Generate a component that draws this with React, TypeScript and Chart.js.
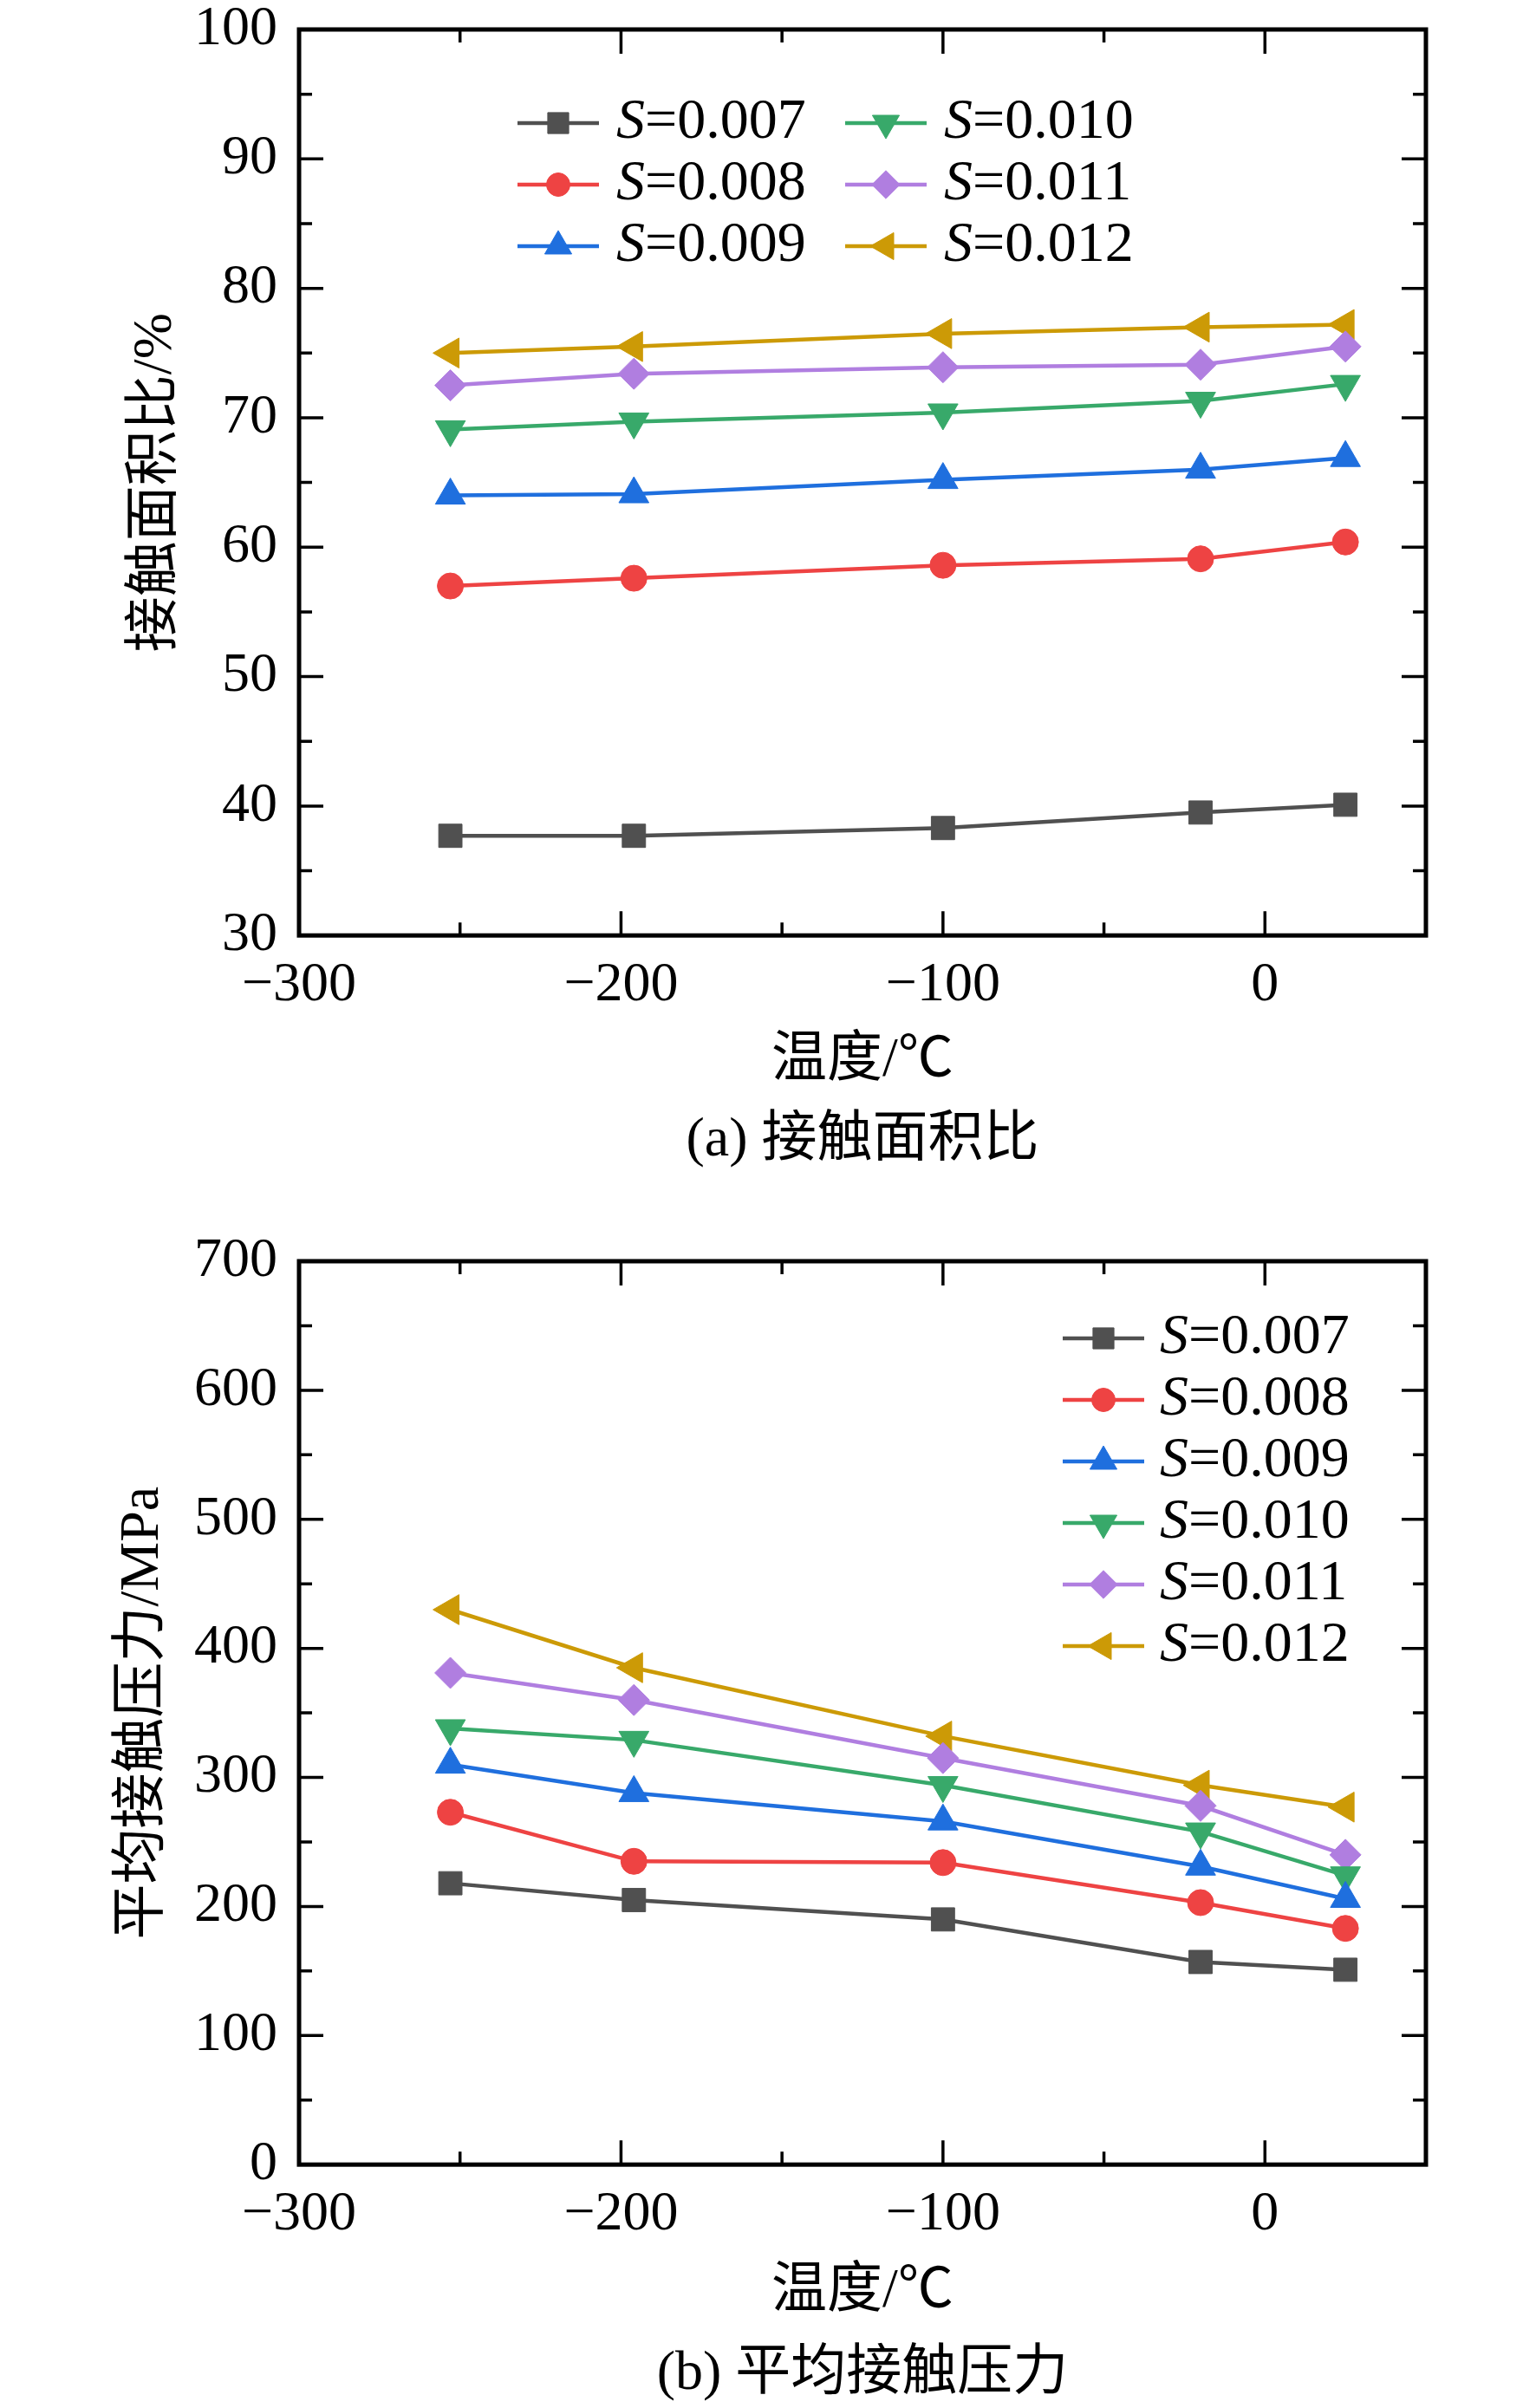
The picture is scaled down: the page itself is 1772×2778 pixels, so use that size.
import { useEffect, useRef } from 'react'
import { Chart, registerables } from 'chart.js'
import { drawPoint } from 'chart.js/helpers'

Chart.register(...registerables)

// temperature (°C) of each measurement
const TEMPERATURES = [-253, -196, -100, -20, 25]

const SERIES_LABELS = ['S=0.007', 'S=0.008', 'S=0.009', 'S=0.010', 'S=0.011', 'S=0.012']
const COLORS = ['#505050', '#ee4343', '#1f6fde', '#38a96a', '#b07ee0', '#cc9a06']
const POINT_STYLES = ['rect', 'circle', 'triangle', 'triangle', 'rectRot', 'triangle']
const POINT_ROTATIONS = [0, 0, 0, 180, 0, -90]
const POINT_RADII = [19, 15, 20, 20, 18, 20]

// (a) contact area ratio, %
const AREA_S007 = [37.7, 37.7, 38.3, 39.5, 40.1]
const AREA_S008 = [57.0, 57.6, 58.6, 59.1, 60.4]
const AREA_S009 = [64.0, 64.1, 65.2, 66.0, 66.9]
const AREA_S010 = [69.1, 69.7, 70.4, 71.3, 72.6]
const AREA_S011 = [72.5, 73.4, 73.9, 74.1, 75.5]
const AREA_S012 = [75.0, 75.5, 76.5, 77.0, 77.2]

// (b) mean contact pressure, MPa
const PRESSURE_S007 = [218, 205, 190, 157, 151]
const PRESSURE_S008 = [273, 235, 234, 203, 183]
const PRESSURE_S009 = [310, 288, 266, 231, 206]
const PRESSURE_S010 = [338, 329, 294, 258, 224]
const PRESSURE_S011 = [381, 360, 315, 278, 240]
const PRESSURE_S012 = [430, 385, 332, 294, 277]

const X_MIN = -300
const X_MAX = 50

const SERIF = '"Liberation Serif", "Times New Roman", serif'
const MIXED = '"Liberation Serif", "Noto Sans CJK SC", serif'

const fmt = (v: number) => (v < 0 ? '\u2212' + Math.abs(v) : String(v))

// box frame + inward ticks on all four sides
const frameTicks = {
  id: 'frameTicks',
  afterDatasetsDraw(chart: any, _args: any, opts: any) {
    const { ctx, chartArea: a } = chart
    const xs = chart.scales.x
    const ys = chart.scales.y
    ctx.save()
    ctx.strokeStyle = '#000'
    ctx.lineWidth = 3.5
    ctx.beginPath()
    xs.ticks.forEach((t: any) => {
      if (t.value <= xs.min || t.value >= xs.max) return
      const px = xs.getPixelForValue(t.value)
      const len = t.value % opts.xMajor === 0 ? 28 : 15
      ctx.moveTo(px, a.bottom); ctx.lineTo(px, a.bottom - len)
      ctx.moveTo(px, a.top); ctx.lineTo(px, a.top + len)
    })
    ys.ticks.forEach((t: any) => {
      if (t.value <= ys.min || t.value >= ys.max) return
      const py = ys.getPixelForValue(t.value)
      const len = t.value % opts.yMajor === 0 ? 28 : 15
      ctx.moveTo(a.left, py); ctx.lineTo(a.left + len, py)
      ctx.moveTo(a.right, py); ctx.lineTo(a.right - len, py)
    })
    ctx.stroke()
    ctx.lineWidth = 5
    ctx.strokeRect(a.left, a.top, a.right - a.left, a.bottom - a.top)
    ctx.restore()
  },
}

// legend with italic "S"
const seriesLegend = {
  id: 'seriesLegend',
  afterDraw(chart: any, _args: any, opts: any) {
    const ctx = chart.ctx
    chart.data.datasets.forEach((ds: any, i: number) => {
      const col = Math.floor(i / opts.rowsPerCol)
      const row = i % opts.rowsPerCol
      const x0 = opts.x + col * opts.colGap
      const y = opts.y + row * opts.rowGap
      ctx.save()
      ctx.strokeStyle = ds.borderColor
      ctx.lineWidth = 4.5
      ctx.beginPath()
      ctx.moveTo(x0, y)
      ctx.lineTo(x0 + opts.lineLen, y)
      ctx.stroke()
      ctx.fillStyle = ds.pointBackgroundColor
      ctx.lineWidth = 1
      drawPoint(ctx, {
        pointStyle: ds.pointStyle,
        rotation: ds.pointRotation,
        radius: ds.pointRadius * 0.9,
        borderWidth: 1,
      } as any, x0 + opts.lineLen / 2, y)
      const [head, tail] = ds.label.split('=')
      const tx = x0 + opts.lineLen + opts.textGap
      ctx.fillStyle = '#000'
      ctx.textBaseline = 'middle'
      ctx.textAlign = 'left'
      ctx.font = `italic ${opts.fontSize}px ${SERIF}`
      ctx.fillText(head, tx, y)
      const w = ctx.measureText(head).width
      ctx.font = `${opts.fontSize}px ${SERIF}`
      ctx.fillText('=' + tail, tx + w, y)
      ctx.restore()
    })
  },
}

type PanelProps = {
  series: number[][]
  yMin: number
  yMax: number
  yStep: number
  yMajor: number
  yTitle: string
  yTitlePad: number
  caption: string
  padTop: number
  xAxisHeight: number
  capPadTop: number
  capPadBottom: number
  legend: Record<string, number>
}

function Panel(p: PanelProps) {
  const ref = useRef<HTMLCanvasElement>(null)

  useEffect(() => {
    if (!ref.current) return
    const chart = new Chart(ref.current, {
      type: 'line',
      data: {
        datasets: p.series.map((vals, i) => ({
          label: SERIES_LABELS[i],
          data: TEMPERATURES.map((x, j) => ({ x, y: vals[j] })),
          borderColor: COLORS[i],
          backgroundColor: COLORS[i],
          pointBackgroundColor: COLORS[i],
          pointBorderColor: COLORS[i],
          pointBorderWidth: 1,
          borderWidth: 4.5,
          pointStyle: POINT_STYLES[i] as any,
          pointRotation: POINT_ROTATIONS[i],
          pointRadius: POINT_RADII[i],
          pointHoverRadius: POINT_RADII[i],
          tension: 0,
          fill: false,
        })),
      },
      options: {
        animation: false,
        responsive: false,
        devicePixelRatio: 1,
        layout: { padding: { top: p.padTop, right: 127, left: 0, bottom: 0 } },
        plugins: {
          legend: { display: false },
          tooltip: { enabled: false },
          title: {
            display: true,
            text: p.caption,
            position: 'bottom',
            fullSize: false,
            color: '#000',
            font: { family: MIXED, size: 64, weight: 'normal', lineHeight: 1.2 },
            padding: { top: p.capPadTop, bottom: p.capPadBottom },
          },
          frameTicks: { xMajor: 100, yMajor: p.yMajor },
          seriesLegend: p.legend,
        } as any,
        scales: {
          x: {
            type: 'linear',
            min: X_MIN,
            max: X_MAX,
            grid: { display: false },
            border: { display: false },
            ticks: {
              stepSize: 50,
              autoSkip: false,
              maxRotation: 0,
              padding: 18,
              color: '#000',
              font: { family: SERIF, size: 64, lineHeight: 1 },
              callback: (v: any) => (v % 100 === 0 ? fmt(v) : ''),
            },
            title: {
              display: true,
              text: '温度/℃',
              color: '#000',
              font: { family: MIXED, size: 64, lineHeight: 1.2 },
              padding: 0,
            },
            afterFit: (s: any) => { s.height = p.xAxisHeight },
          },
          y: {
            min: p.yMin,
            max: p.yMax,
            grid: { display: false },
            border: { display: false },
            ticks: {
              stepSize: p.yStep,
              autoSkip: false,
              padding: 17,
              color: '#000',
              font: { family: SERIF, size: 64, lineHeight: 0.2 },
              callback: (v: any) => (v % p.yMajor === 0 ? fmt(v) : ''),
            },
            title: {
              display: true,
              text: p.yTitle,
              color: '#000',
              font: { family: MIXED, size: 64, lineHeight: 1.2 },
              padding: { top: p.yTitlePad, bottom: 0 },
            },
            afterFit: (s: any) => { s.width = 345 },
          },
        },
      },
      plugins: [frameTicks, seriesLegend],
    })
    return () => { chart.destroy() }
  }, [])

  return <canvas ref={ref} width={1772} height={1389} style={{ display: 'block' }} />
}

export default function App() {
  return (
    <div style={{ position: 'absolute', left: 0, top: 0, width: 1772, height: 2778, background: '#fff' }}>
      <Panel
        series={[AREA_S007, AREA_S008, AREA_S009, AREA_S010, AREA_S011, AREA_S012]}
        yMin={30}
        yMax={100}
        yStep={5}
        yMajor={10}
        yTitle="接触面积比/%"
        yTitlePad={142}
        caption="(a) 接触面积比"
        padTop={34}
        xAxisHeight={183}
        capPadTop={16}
        capPadBottom={34}
        legend={{ x: 597, y: 142, rowGap: 71, colGap: 378, rowsPerCol: 3, lineLen: 94, textGap: 20, fontSize: 66 }}
      />
      <Panel
        series={[PRESSURE_S007, PRESSURE_S008, PRESSURE_S009, PRESSURE_S010, PRESSURE_S011, PRESSURE_S012]}
        yMin={0}
        yMax={700}
        yStep={50}
        yMajor={100}
        yTitle="平均接触压力/MPa"
        yTitlePad={127}
        caption="(b) 平均接触压力"
        padTop={66}
        xAxisHeight={185}
        capPadTop={19}
        capPadBottom={0}
        legend={{ x: 1226, y: 155, rowGap: 71, colGap: 0, rowsPerCol: 6, lineLen: 94, textGap: 18, fontSize: 66 }}
      />
    </div>
  )
}
